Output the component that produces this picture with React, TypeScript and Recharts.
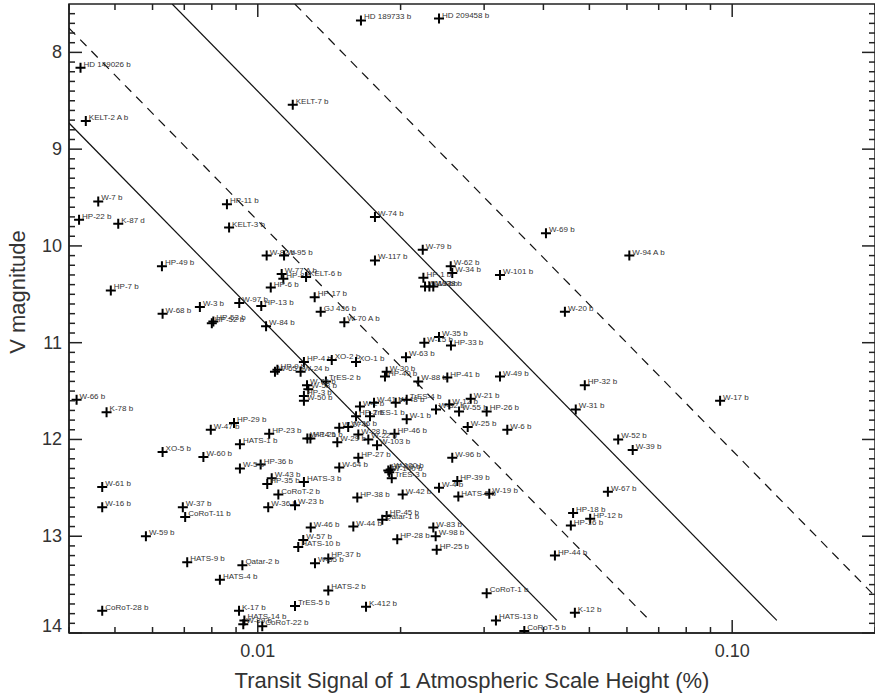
import { ScatterChart, Scatter, XAxis, YAxis, ReferenceArea } from "recharts";

// Transiting planets: name, transit signal of one scale height (%), host V magnitude
const planetNames = [
  "HD 149026 b", "KELT-2 A b", "KELT-7 b", "HD 189733 b", "HD 209458 b",
  "W-7 b", "HP-22 b", "K-87 d", "HP-11 b", "KELT-3 b",
  "W-74 b", "W-69 b", "W-94 A b", "W-82 b", "W-95 b",
  "HP-49 b", "W-77 A b", "HP-8 b", "KELT-6 b", "HP-6 b",
  "HP-17 b", "GJ 436 b", "HP-7 b", "W-3 b", "W-68 b",
  "W-97 b", "HP-13 b", "HP-52 b", "HP-53 b", "W-84 b",
  "W-117 b", "W-79 b", "W-62 b", "W-34 b", "HP-1 b",
  "W-13 b", "W-92 b", "W-38 b", "W-101 b", "W-20 b",
  "W-70 A b", "W-35 b", "W-15 b", "HP-33 b", "W-63 b",
  "HP-4 b", "XO-2 b", "XO-1 b", "W-65 b", "HP-9 b",
  "W-24 b", "TrES-2 b", "W-75 b", "W-58 b", "HP-3 b",
  "W-50 b", "W-66 b", "K-78 b", "W-30 b", "HP-40 b",
  "W-88 b", "HP-41 b", "W-49 b", "HP-32 b", "W-31 b",
  "W-17 b", "W-2 b", "W-41 b", "W-48 b", "TrES-4 b",
  "HP-2 b", "TrES-1 b", "W-1 b", "W-32 b", "W-12 b",
  "W-55 b", "HP-26 b", "W-21 b", "W-25 b", "W-6 b",
  "HP-46 b", "W-103 b", "W-96 b", "W-27 b", "W-26 b",
  "W-28 b", "W-29 b", "W-22 b", "W-14 b", "HP-21 b",
  "HP-27 b", "W-64 b", "HP-19 b", "W-100 b", "W-140 b",
  "TrES-3 b", "HATS-3 b", "HP-38 b", "W-42 b", "W-4 b",
  "HP-39 b", "HATS-5 b", "W-19 b", "W-83 b", "W-98 b",
  "HP-25 b", "HP-28 b", "HP-45 b", "Qatar-1 b", "W-44 b",
  "W-46 b", "W-57 b", "HATS-10 b", "HP-37 b", "W-85 b",
  "HP-36 b", "W-43 b", "HP-35 b", "CoRoT-2 b", "W-36 b",
  "W-23 b", "W-47 b", "HP-29 b", "HP-23 b", "HATS-1 b",
  "XO-5 b", "W-60 b", "W-5 b", "W-61 b", "W-16 b",
  "W-37 b", "CoRoT-11 b", "W-59 b", "HATS-9 b", "Qatar-2 b",
  "HATS-4 b", "CoRoT-28 b", "K-17 b", "HATS-14 b", "W-89 b",
  "CoRoT-22 b", "TrES-5 b", "HATS-2 b", "K-412 b", "HATS-13 b",
  "CoRoT-5 b", "CoRoT-1 b", "K-12 b", "HP-44 b", "HP-18 b",
  "HP-12 b", "HP-16 b", "W-67 b", "W-52 b", "W-39 b",
];

const transitSignal = [
  0.00423, 0.00434, 0.01185, 0.0165, 0.0241,
  0.00461, 0.0042, 0.00508, 0.00861, 0.0087,
  0.01766, 0.0405, 0.0607, 0.01044, 0.01136,
  0.00628, 0.01123, 0.01132, 0.01264, 0.01065,
  0.01318, 0.01357, 0.0049, 0.00755, 0.0063,
  0.00914, 0.01017, 0.008, 0.00806, 0.01041,
  0.01766, 0.02227, 0.02551, 0.0257, 0.02234,
  0.02252, 0.023, 0.02344, 0.0324, 0.0444,
  0.01522, 0.0241, 0.02244, 0.02554, 0.02053,
  0.01251, 0.01432, 0.01611, 0.01087, 0.011,
  0.01231, 0.01392, 0.0127, 0.01278, 0.01251,
  0.01251, 0.00415, 0.0048, 0.01869, 0.01854,
  0.02179, 0.02509, 0.0324, 0.0489, 0.0468,
  0.0943, 0.01642, 0.01758, 0.01953, 0.0206,
  0.01611, 0.01724, 0.0206, 0.02375, 0.02533,
  0.02656, 0.03037, 0.02811, 0.0277, 0.03357,
  0.01942, 0.01784, 0.0257, 0.01485, 0.01551,
  0.01629, 0.01471, 0.0171, 0.01272, 0.01291,
  0.01629, 0.01485, 0.01884, 0.01906, 0.01893,
  0.01916, 0.01251, 0.01621, 0.0202, 0.0241,
  0.02634, 0.02647, 0.03076, 0.02344, 0.02371,
  0.02383, 0.01968, 0.01869, 0.0183, 0.0159,
  0.01293, 0.01247, 0.01217, 0.01408, 0.0132,
  0.01014, 0.0107, 0.01047, 0.01105, 0.01052,
  0.01198, 0.00796, 0.00891, 0.01057, 0.00917,
  0.0063, 0.00768, 0.00917, 0.0047, 0.0047,
  0.00695, 0.00703, 0.00581, 0.0071, 0.00928,
  0.00832, 0.0047, 0.00913, 0.00937, 0.00932,
  0.01022, 0.01198, 0.01408, 0.01691, 0.03177,
  0.03646, 0.03037, 0.0466, 0.0423, 0.0462,
  0.0502, 0.0457, 0.0547, 0.0575, 0.0617,
];

const vMagnitude = [
  8.16, 8.71, 8.54, 7.67, 7.65,
  9.54, 9.73, 9.77, 9.57, 9.81,
  9.70, 9.87, 10.10, 10.10, 10.10,
  10.21, 10.29, 10.34, 10.32, 10.43,
  10.53, 10.68, 10.46, 10.63, 10.70,
  10.59, 10.62, 10.80, 10.78, 10.83,
  10.15, 10.04, 10.21, 10.28, 10.33,
  10.42, 10.42, 10.42, 10.30, 10.68,
  10.79, 10.94, 11.00, 11.03, 11.15,
  11.20, 11.18, 11.20, 11.30, 11.28,
  11.30, 11.40, 11.44, 11.48, 11.55,
  11.60, 11.59, 11.72, 11.30, 11.35,
  11.40, 11.36, 11.35, 11.44, 11.69,
  11.60, 11.66, 11.62, 11.62, 11.59,
  11.76, 11.76, 11.79, 11.69, 11.64,
  11.71, 11.71, 11.58, 11.87, 11.90,
  11.94, 12.06, 12.19, 11.88, 11.87,
  11.95, 12.03, 12.00, 11.99, 11.99,
  12.19, 12.29, 12.32, 12.31, 12.34,
  12.40, 12.44, 12.60, 12.57, 12.50,
  12.43, 12.59, 12.56, 12.91, 13.00,
  13.14, 13.03, 12.79, 12.83, 12.90,
  12.91, 13.04, 13.11, 13.23, 13.28,
  12.26, 12.40, 12.46, 12.57, 12.70,
  12.68, 11.90, 11.83, 11.94, 12.05,
  12.13, 12.18, 12.30, 12.49, 12.70,
  12.70, 12.80, 13.00, 13.27, 13.30,
  13.45, 13.77, 13.77, 13.87, 13.91,
  13.93, 13.72, 13.56, 13.73, 13.87,
  13.98, 13.59, 13.79, 13.20, 12.76,
  12.82, 12.89, 12.54, 12.00, 12.11,
];

// Sensitivity limits (V = 5 log S + const), start and end points
const limitSignal = [
  [0.004, 0.0427],
  [0.004, 0.067],
  [0.0066, 0.1242],
  [0.01197, 0.2],
];
const limitMag = [
  [8.73, 13.87],
  [7.75, 13.87],
  [7.5, 13.87],
  [7.5, 13.62],
];

const signalTicks = [
  0.004, 0.005, 0.006, 0.007, 0.008, 0.009, 0.01,
  0.02, 0.03, 0.04, 0.05, 0.06, 0.07, 0.08, 0.09, 0.1, 0.2,
];
const signalMajor = [0.01, 0.1];
const signalLabels = ["0.01", "0.10"];

const magMajor = [8, 9, 10, 11, 12, 13, 14];
// minor ticks every 0.1 mag, 7.6 .. 14.0
const magTicks = Array.from({ length: 65 }, (_, i) => Math.round((7.6 + i * 0.1) * 10) / 10);

const planets = planetNames.map((name, i) => ({
  name,
  signal: transitSignal[i],
  vmag: vMagnitude[i],
}));

const limits = limitSignal.map((sig, i) => [
  { signal: sig[0], vmag: limitMag[i][0] },
  { signal: sig[1], vmag: limitMag[i][1] },
]);
const limitDash = [undefined, "9 7", undefined, "9 7"];

const W = 875;
const H = 697;
const TOP = 4;
const BOTTOM = 633;
const LEFT = 69;
const RIGHT = W;
const AXIS = "#222";
const TEXT = "#333";

const PlusMarker = (props: any) => {
  const { cx, cy, payload } = props;
  if (cx == null || cy == null) return <g />;
  return (
    <g>
      <path
        d={`M${cx - 5},${cy}H${cx + 5}M${cx},${cy - 5}V${cy + 5}`}
        stroke="#000"
        strokeWidth={2}
      />
      <text x={cx + 3} y={cy - 1} fontSize={8} fill={TEXT}>
        {payload?.name}
      </text>
    </g>
  );
};

const NoMarker = () => <g />;

const SignalTick = (props: any) => {
  const { x, y, payload } = props;
  const idx = signalMajor.indexOf(payload.value);
  const len = idx >= 0 ? 13 : 6;
  return (
    <g>
      <line x1={x} x2={x} y1={y} y2={y - len} stroke={AXIS} strokeWidth={1.5} />
      <line x1={x} x2={x} y1={TOP} y2={TOP + len} stroke={AXIS} strokeWidth={1.5} />
      {idx >= 0 && (
        <text x={x} y={y + 24} textAnchor="middle" fontSize={18} fill={TEXT}>
          {signalLabels[idx]}
        </text>
      )}
    </g>
  );
};

const MagTick = (props: any) => {
  const { x, y, payload } = props;
  const major = magMajor.includes(payload.value);
  const len = major ? 13 : 6;
  // the bottom label is lifted so it stays clear of the x axis
  const dy = y > BOTTOM - 4 ? -1 : 6;
  return (
    <g>
      <line x1={x} x2={x + len} y1={y} y2={y} stroke={AXIS} strokeWidth={1.5} />
      <line x1={RIGHT - len} x2={RIGHT} y1={y} y2={y} stroke={AXIS} strokeWidth={1.5} />
      {major && (
        <text x={x - 7} y={y + dy} textAnchor="end" fontSize={18} fill={TEXT}>
          {payload.value}
        </text>
      )}
    </g>
  );
};

const XTitle = () => (
  <text x={472} y={688} textAnchor="middle" fontSize={22} fill={TEXT}>
    Transit Signal of 1 Atmospheric Scale Height (%)
  </text>
);

const YTitle = () => (
  <text
    x={25}
    y={292}
    textAnchor="middle"
    fontSize={22}
    fill={TEXT}
    transform="rotate(-90 25 292)"
  >
    V magnitude
  </text>
);

export default function App() {
  return (
    <div
      style={{
        position: "absolute",
        left: 0,
        top: 0,
        background: "#fff",
        fontFamily: "'Liberation Sans', Arial, Helvetica, sans-serif",
      }}
    >
      <ScatterChart
        width={W}
        height={H}
        margin={{ top: TOP, right: 0, bottom: 0, left: 0 }}
      >
        <XAxis
          type="number"
          dataKey="signal"
          scale="log"
          domain={[0.004, 0.2]}
          allowDataOverflow
          ticks={signalTicks}
          interval={0}
          tick={<SignalTick />}
          tickLine={false}
          tickSize={0}
          tickMargin={0}
          axisLine={{ stroke: AXIS, strokeWidth: 1.5 }}
          height={H - BOTTOM}
          label={<XTitle />}
        />
        <YAxis
          type="number"
          dataKey="vmag"
          domain={[7.5, 14]}
          reversed
          allowDataOverflow
          ticks={magTicks}
          interval={0}
          tick={<MagTick />}
          tickLine={false}
          tickSize={0}
          tickMargin={0}
          width={LEFT}
          axisLine={{ stroke: AXIS, strokeWidth: 1.5 }}
          label={<YTitle />}
        />
        <ReferenceArea
          x1={0.004}
          x2={0.2}
          y1={7.5}
          y2={14}
          fill="none"
          stroke={AXIS}
          strokeWidth={1.5}
          ifOverflow="visible"
        />
        {limits.map((pts, i) => (
          <Scatter
            key={`limit-${i}`}
            data={pts}
            line={{ stroke: "#111", strokeWidth: 1.2, strokeDasharray: limitDash[i] }}
            shape={<NoMarker />}
            legendType="none"
            isAnimationActive={false}
          />
        ))}
        <Scatter
          data={planets}
          shape={<PlusMarker />}
          isAnimationActive={false}
        />
      </ScatterChart>
    </div>
  );
}
